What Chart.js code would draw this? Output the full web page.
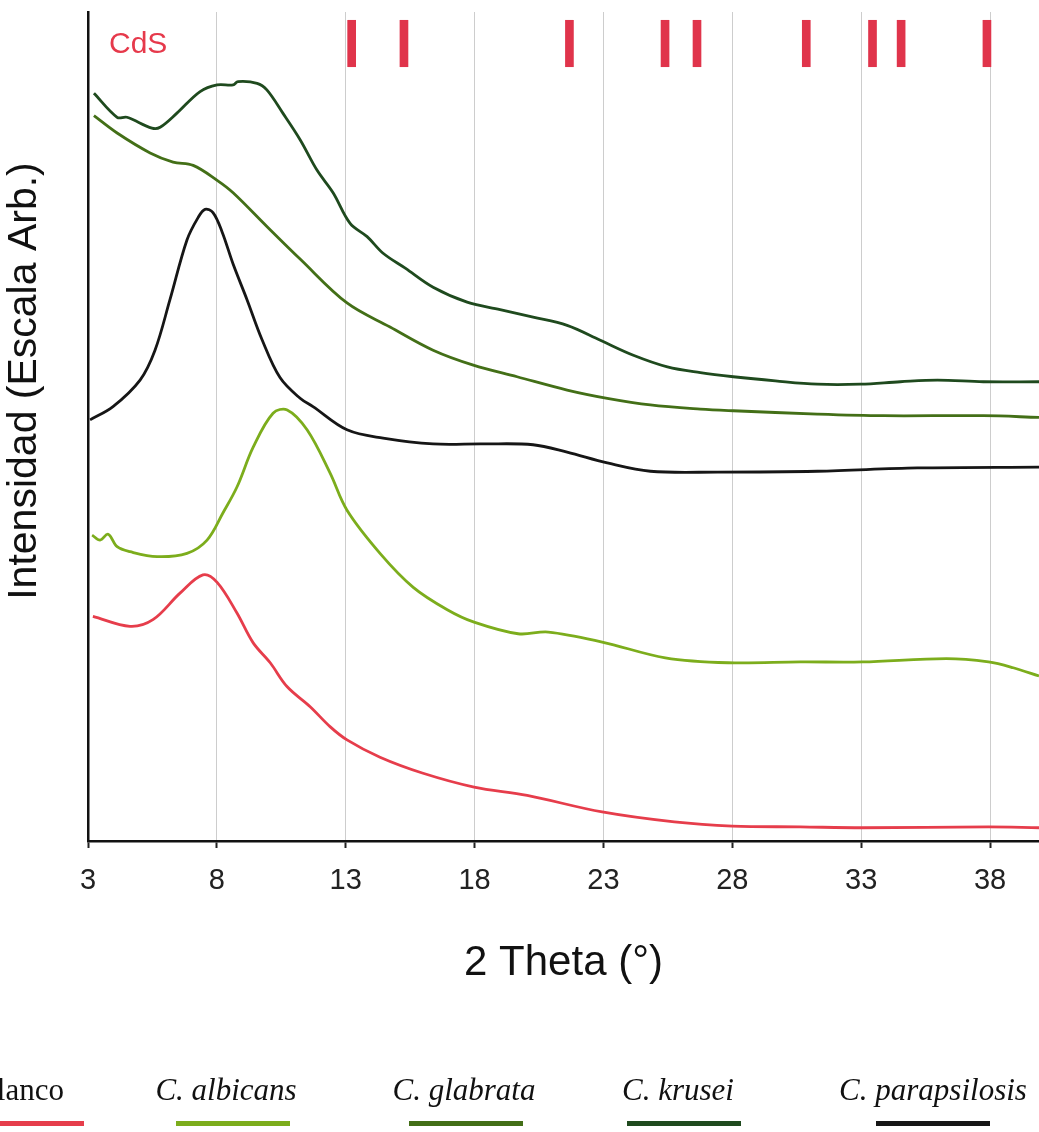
<!DOCTYPE html>
<html>
<head>
<meta charset="utf-8">
<script src="https://cdn.jsdelivr.net/npm/chart.js@4/dist/chart.umd.min.js"></script>
<style>
  body { margin: 0; background: #fff; }
  #wrap { width: 1039px; height: 1132px; }
</style>
</head>
<body>
<div id="wrap"><canvas id="xrd" width="1039" height="1132"></canvas></div>
<script>
// 2 Theta tick labels
const xTicks = [3, 8, 13, 18, 23, 28, 33, 38];

const seriesNames = ['Blanco', 'C. albicans', 'C. glabrata', 'C. krusei', 'C. parapsilosis'];
const seriesColors = ['#e63d4b', '#7cad1c', '#436f17', '#1f4a1e', '#161616'];

// CdS reference peaks (2 Theta)
const cdsPeaks = [13.23, 15.26, 21.68, 25.39, 26.63, 30.87, 33.44, 34.55, 37.88];
const cdsRange = [93.4, 99.0];

// intensity, arbitrary units
const blancoX = [3.19, 4.63, 5.52, 6.57, 7.46, 8.01, 8.78, 9.41, 10.07, 10.73, 11.62, 12.39, 13.05, 14.33, 15.97, 17.98, 20.04, 22.95, 25.75, 28.0, 30.64, 33.05, 37.94, 39.9];
const blancoY = [27.1, 25.9, 26.7, 29.9, 32.1, 31.2, 27.5, 23.9, 21.5, 18.6, 16.2, 13.8, 12.2, 10.1, 8.2, 6.5, 5.5, 3.5, 2.3, 1.8, 1.7, 1.6, 1.7, 1.6];

const albicansX = [3.16, 3.47, 3.78, 4.13, 4.63, 5.68, 6.84, 7.62, 8.24, 8.78, 9.41, 10.18, 10.73, 11.5, 12.39, 13.05, 14.33, 15.62, 16.94, 17.98, 19.69, 20.86, 22.95, 25.4, 27.84, 30.64, 33.05, 36.31, 37.94, 38.9, 39.9];
const albicansY = [36.9, 36.3, 37.0, 35.5, 34.9, 34.3, 34.7, 36.3, 39.6, 42.7, 47.5, 51.6, 52.0, 49.6, 44.4, 39.9, 34.7, 30.6, 27.9, 26.4, 25.0, 25.2, 24.0, 22.1, 21.5, 21.6, 21.6, 22.0, 21.6, 20.9, 19.9];

const glabrataX = [3.23, 4.13, 5.41, 6.3, 7.08, 8.01, 8.63, 9.95, 11.23, 13.05, 14.72, 16.39, 17.95, 19.65, 21.59, 23.15, 24.82, 26.76, 28.04, 31.3, 33.86, 37.74, 39.9];
const glabrataY = [87.5, 85.4, 83.0, 81.9, 81.5, 79.7, 78.2, 74.1, 70.2, 64.9, 62.0, 59.2, 57.4, 56.0, 54.4, 53.4, 52.6, 52.1, 51.9, 51.5, 51.3, 51.3, 51.1];

const kruseiX = [3.23, 4.13, 4.51, 5.48, 5.8, 6.45, 7.35, 8.01, 8.63, 8.82, 9.56, 9.94, 10.56, 11.23, 11.89, 12.51, 13.17, 13.83, 14.45, 15.31, 16.39, 17.71, 18.99, 20.27, 21.59, 22.88, 24.16, 25.48, 26.76, 28.04, 29.67, 31.3, 32.97, 34.52, 35.96, 37.74, 39.9];
const kruseiY = [90.2, 87.3, 87.3, 86.0, 86.1, 87.8, 90.4, 91.2, 91.2, 91.6, 91.4, 90.6, 87.8, 84.6, 80.9, 78.2, 74.5, 72.9, 70.9, 69.1, 66.8, 65.0, 64.1, 63.2, 62.2, 60.4, 58.6, 57.2, 56.5, 56.0, 55.5, 55.1, 55.1, 55.4, 55.6, 55.4, 55.4];

const parapsX = [3.08, 3.97, 5.02, 5.6, 6.18, 6.84, 7.27, 7.54, 7.85, 8.2, 8.63, 9.17, 9.75, 10.45, 11.23, 11.73, 13.05, 14.45, 16.39, 18.33, 20.27, 21.59, 23.15, 24.82, 27.42, 31.3, 35.18, 39.9];
const parapsY = [50.8, 52.4, 55.6, 59.2, 65.3, 72.5, 75.2, 76.2, 75.8, 73.5, 69.6, 65.3, 60.5, 55.9, 53.4, 52.4, 49.6, 48.6, 47.9, 47.9, 47.8, 46.9, 45.6, 44.6, 44.5, 44.6, 45.0, 45.1];

const seriesX = [blancoX, albicansX, glabrataX, kruseiX, parapsX];
const seriesY = [blancoY, albicansY, glabrataY, kruseiY, parapsY];

const lineSets = seriesNames.map((name, i) => ({
    type: 'line',
    label: name,
    data: seriesX[i].map((x, j) => ({ x: x, y: seriesY[i][j] })),
    borderColor: seriesColors[i],
    borderWidth: 2.8,
    pointRadius: 0,
    tension: 0.35,
    fill: false
}));

const cdsSet = {
    type: 'bar',
    label: 'CdS',
    data: cdsPeaks.map(x => ({ x: x, y: cdsRange })),
    backgroundColor: '#e0344b',
    barThickness: 8,
    borderWidth: 0
};

const FONT = '"Liberation Sans", Arial, sans-serif';
const SERIF = '"Liberation Serif", "Times New Roman", serif';

// y title, CdS tag and the legend row under the chart
const extras = {
    id: 'extras',
    afterDraw(chart) {
        const ctx = chart.ctx;
        ctx.save();
        ctx.fillStyle = '#111';
        ctx.font = '41px ' + FONT;
        ctx.textAlign = 'center';
        ctx.textBaseline = 'middle';
        ctx.translate(25, 381);
        ctx.rotate(-Math.PI / 2);
        ctx.fillText('Intensidad (Escala Arb.)', 0, 0);
        ctx.restore();

        ctx.save();
        ctx.fillStyle = '#e6394b';
        ctx.font = '30px ' + FONT;
        ctx.textAlign = 'left';
        ctx.textBaseline = 'middle';
        ctx.fillText('CdS', 109, 45);
        ctx.restore();

        const textX = [20, 226, 464, 678, 933];
        const lineX = [27, 233, 466, 684, 933];
        ctx.save();
        ctx.textAlign = 'center';
        ctx.textBaseline = 'alphabetic';
        seriesNames.forEach((name, i) => {
            ctx.font = (i === 0 ? '' : 'italic ') + '31px ' + SERIF;
            ctx.fillStyle = '#111';
            ctx.fillText(name, textX[i], 1100);
            ctx.fillStyle = seriesColors[i];
            ctx.fillRect(lineX[i] - 57, 1121, 114, 5);
        });
        ctx.restore();
    }
};

new Chart(document.getElementById('xrd'), {
    data: { datasets: [cdsSet].concat(lineSets) },
    options: {
        responsive: false,
        animation: false,
        layout: { padding: { top: 12, right: 0, bottom: 143, left: 0 } },
        plugins: { legend: { display: false }, tooltip: { enabled: false } },
        scales: {
            x: {
                type: 'linear',
                min: 3,
                max: 39.9,
                offset: false,
                afterBuildTicks: scale => { scale.ticks = xTicks.map(v => ({ value: v })); },
                afterFit: scale => { scale.height = 148; },
                ticks: { color: '#222', font: { family: FONT, size: 29 }, padding: 16, maxRotation: 0 },
                grid: { offset: false, color: '#cdcdcd', lineWidth: 1, tickColor: '#222', tickLength: 7, tickWidth: 2 },
                border: { color: '#111', width: 2.5 },
                title: { display: true, text: '2 Theta (°)', color: '#111', font: { family: FONT, size: 42 }, padding: 0 }
            },
            y: {
                type: 'linear',
                min: 0,
                max: 100,
                afterFit: scale => { scale.width = 88; },
                ticks: { display: false },
                grid: { display: false },
                border: { color: '#111', width: 2.5 }
            }
        }
    },
    plugins: [extras]
});
</script>
</body>
</html>
